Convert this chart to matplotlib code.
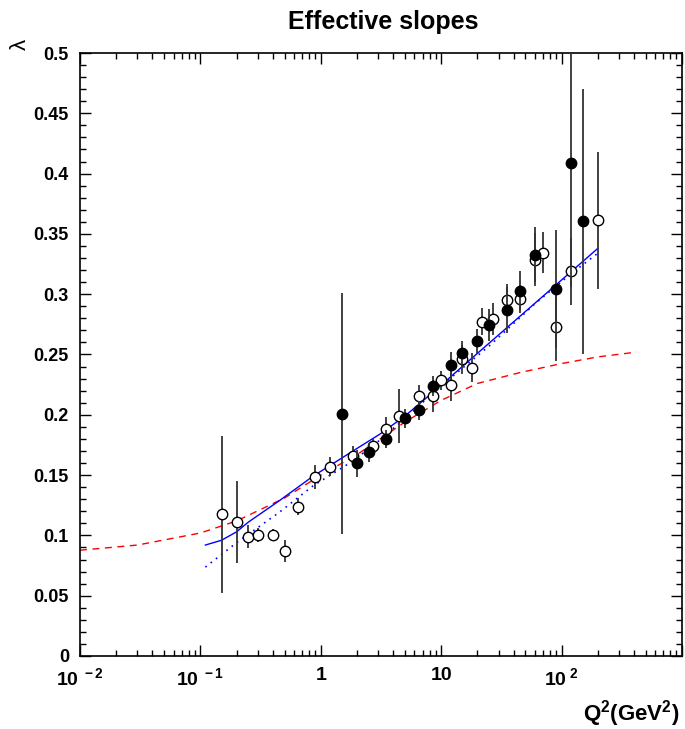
import numpy as np
import matplotlib
matplotlib.use("Agg")
import matplotlib.pyplot as plt
import matplotlib.ticker as mticker

plt.rcParams["font.family"] = ["Liberation Sans", "DejaVu Sans"]
plt.rcParams["mathtext.fontset"] = "custom"
plt.rcParams["mathtext.rm"] = "Liberation Sans:bold"
plt.rcParams["mathtext.bf"] = "Liberation Sans:bold"
plt.rcParams["mathtext.it"] = "Liberation Sans:bold"

# ── data: open circles ────────────────────────────────────────────────────────
open_q2 = [0.15, 0.2, 0.25, 0.3, 0.4, 0.5, 0.65, 0.9, 1.2, 1.85, 2.7, 3.5, 4.5,
           6.5, 8.5, 10, 12, 15, 18, 22, 27, 35, 45, 60, 70, 90, 120, 200]
open_lam = [0.1175, 0.111, 0.099, 0.1004, 0.1004, 0.0872, 0.1236, 0.1487, 0.157,
            0.166, 0.174, 0.1885, 0.199, 0.2155, 0.2156, 0.2287, 0.2243, 0.2459,
            0.239, 0.2773, 0.2795, 0.2955, 0.296, 0.3286, 0.3342, 0.2729, 0.319,
            0.3612]
open_err = [0.065, 0.034, 0.0095, 0.006, 0.005, 0.009, 0.007, 0.010, 0.008,
            0.008, 0.006, 0.010, 0.022, 0.009, 0.013, 0.008, 0.013, 0.012,
            0.012, 0.011, 0.013, 0.013, 0.012, 0.022, 0.017, 0.028, 0.028, 0.057]

# ── data: filled circles ──────────────────────────────────────────────────────
full_q2 = [1.5, 2.0, 2.5, 3.5, 5.0, 6.5, 8.5, 12, 15, 20, 25, 35, 45, 60, 90,
           120, 150]
full_lam = [0.2009, 0.1598, 0.169, 0.180, 0.197, 0.2036, 0.224, 0.241, 0.251,
            0.2608, 0.2746, 0.2867, 0.303, 0.3328, 0.3044, 0.4087, 0.3604]
full_err = [0.100, 0.011, 0.008, 0.0075, 0.008, 0.008, 0.008, 0.011, 0.010,
            0.0105, 0.013, 0.019, 0.016, 0.023, 0.049, 0.103, 0.110]

# ── curves ────────────────────────────────────────────────────────────────────
solid_q2 = [0.11, 0.15, 0.2, 0.25, 0.45, 0.86, 1.85, 3.1, 5, 8.5, 18, 45, 120, 200]
solid_lam = [0.092, 0.096, 0.103, 0.111, 0.1286, 0.149, 0.170, 0.184, 0.199,
             0.2185, 0.247, 0.2816, 0.3187, 0.338]

dot_q2 = [0.11, 0.2, 0.45, 0.86, 1.85, 3, 5, 10, 25, 60, 120, 200]
dot_lam = [0.0737, 0.094, 0.119, 0.141, 0.1617, 0.178, 0.197, 0.224, 0.257,
           0.292, 0.317, 0.334]

red_q2 = [0.01, 0.03, 0.1, 0.2, 0.5, 1, 2, 5, 10, 20, 45, 100, 200, 420]
red_lam = [0.0877, 0.092, 0.102, 0.112, 0.131, 0.150, 0.167, 0.194, 0.212,
           0.226, 0.235, 0.2425, 0.248, 0.252]

fig = plt.figure(figsize=(6.85, 7.29), dpi=100)
ax = fig.add_axes([80 / 685, 1 - 656 / 729, 602 / 685, 603 / 729])

ax.plot(red_q2, red_lam, color="#ff0000", lw=1.0, dashes=(5, 4))
ax.plot(solid_q2, solid_lam, color="#0000ff", lw=1.0)
ax.plot(dot_q2, dot_lam, color="#0000ff", lw=1.2, dashes=(1, 3))

ax.errorbar(open_q2, open_lam, yerr=open_err, fmt="o", ms=7.5, mfc="white",
            mec="black", mew=1.0, ecolor="#333333", elinewidth=1.3, capsize=0,
            zorder=3)
ax.errorbar(full_q2, full_lam, yerr=full_err, fmt="o", ms=7.5, mfc="black",
            mec="black", ecolor="#333333", elinewidth=1.3, capsize=0, zorder=4)

ax.set_xscale("log")
ax.set_xlim(1e-2, 1e3)
ax.set_ylim(0, 0.5)

ax.yaxis.set_major_locator(mticker.MultipleLocator(0.05))
ax.yaxis.set_minor_locator(mticker.MultipleLocator(0.01))
ax.yaxis.set_major_formatter(mticker.FuncFormatter(lambda v, p: f"{v:g}"))

xlabels = {1e-2: r"$\mathbf{10^{\ -2}}$", 1e-1: r"$\mathbf{10^{\ -1}}$",
           1: "1", 10: "10", 1e2: r"$\mathbf{10^{\ 2}}$", 1e3: ""}
ax.xaxis.set_major_locator(mticker.FixedLocator(list(xlabels.keys())))
ax.xaxis.set_major_formatter(mticker.FuncFormatter(lambda v, p: xlabels.get(v, "")))
ax.xaxis.set_minor_locator(mticker.LogLocator(base=10, subs=np.arange(2, 10)))
ax.xaxis.set_minor_formatter(mticker.NullFormatter())

ax.tick_params(which="both", direction="in", top=True, right=True, width=1.0)
ax.tick_params(which="major", length=8, labelsize=13, pad=8)
ax.tick_params(axis="x", which="major", labelsize=14)
ax.tick_params(which="minor", length=4)
for lab in ax.get_xticklabels() + ax.get_yticklabels():
    lab.set_fontweight("bold")
for s in ax.spines.values():
    s.set_linewidth(1.2)

fig.text(383 / 685, 1 - 22 / 729, "Effective slopes", ha="center", va="center",
         fontsize=18, fontweight="bold")
fig.text(20 / 685, 1 - 44 / 729, "λ", ha="center", va="center", fontsize=16,
         rotation=90)
fig.text(679 / 685, 1 - 714 / 729, r"$\mathbf{Q^2(GeV^2)}$", ha="right",
         va="center", fontsize=16)

fig.savefig("out.png", dpi=100)
